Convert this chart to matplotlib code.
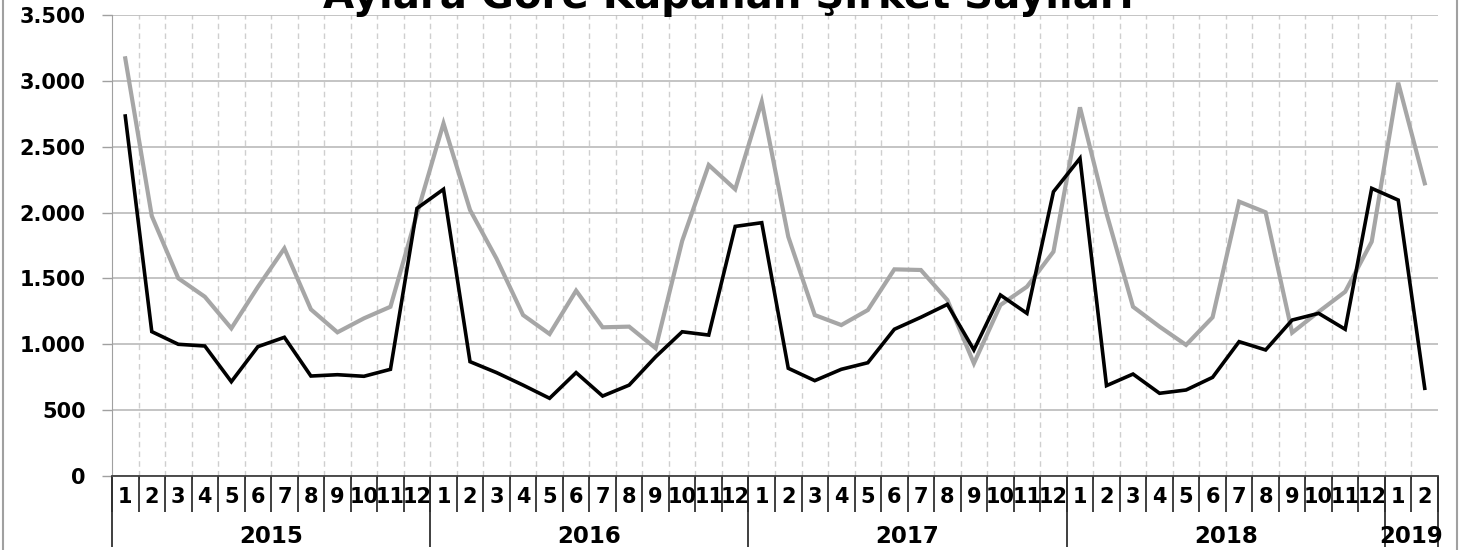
import numpy as np
import matplotlib
matplotlib.use("Agg")
import matplotlib.pyplot as plt
from matplotlib.ticker import FuncFormatter, FixedLocator
from matplotlib.patches import Rectangle

# Kapanan şirket sayıları, Ocak 2015 - Şubat 2019
years = ["2015", "2016", "2017", "2018", "2019"]
months_per_year = [12, 12, 12, 12, 2]

series_black = [2733, 1096, 1000, 987, 716, 982, 1053, 759, 769, 757, 810, 2032,
                2177, 868, 785, 690, 590, 785, 607, 690, 905, 1095, 1070, 1895,
                1923, 818, 724, 810, 860, 1114, 1205, 1303, 957, 1374, 1235, 2158,
                2412, 686, 774, 628, 653, 749, 1020, 957, 1184, 1235, 1114, 2184,
                2095, 666]

series_gray = [3171, 1974, 1501, 1361, 1121, 1435, 1728, 1265, 1091, 1197, 1285, 1990,
               2677, 2020, 1650, 1222, 1078, 1407, 1129, 1134, 970, 1785, 2361, 2177,
               2842, 1817, 1222, 1146, 1260, 1569, 1564, 1336, 855, 1298, 1437, 1703,
               2799, 1994, 1285, 1134, 995, 1205, 2083, 2002, 1088, 1247, 1399, 1779,
               2986, 2222]

month_labels = [str(m + 1) for n in months_per_year for m in range(n)]

W, H = 1465, 550
fig = plt.figure(figsize=(W / 100, H / 100), dpi=100)
ax = fig.add_axes([112 / W, 1 - 476 / H, (1438 - 112) / W, (476 - 15) / H])

x = np.arange(len(series_black)) + 0.5
ax.plot(x, series_gray, color="#a6a6a6", lw=3.0, solid_joinstyle="miter", zorder=3)
ax.plot(x, series_black, color="black", lw=2.6, solid_joinstyle="miter", zorder=4)

ax.set_xlim(0, len(x))
ax.set_ylim(0, 3500)

# y ekseni
ax.yaxis.set_major_locator(FixedLocator(np.arange(0, 3501, 500)))
ax.yaxis.set_major_formatter(FuncFormatter(lambda v, p: f"{int(v):,}".replace(",", ".")))
ax.tick_params(axis="y", length=7, width=1, color="#a0a0a0", pad=12,
               labelsize=15)
for lab in ax.get_yticklabels():
    lab.set_fontweight("bold")
ax.grid(axis="y", color="#b4b4b4", lw=1.1, zorder=1)

# dikey kesikli çizgiler (ay sınırları)
ax.xaxis.set_minor_locator(FixedLocator(np.arange(1, len(x))))
ax.grid(axis="x", which="minor", color="#cfcfcf", lw=1, ls=(0, (4, 3)), zorder=1)
ax.set_xticks([])

for s in ["top", "right"]:
    ax.spines[s].set_visible(False)
ax.spines["left"].set_color("#a0a0a0")
ax.spines["bottom"].set_color("#404040")
ax.spines["bottom"].set_linewidth(1.3)

# ay etiketleri ve çentikler
trans = ax.get_xaxis_transform()
bounds = np.arange(0, len(x) + 1)
ax.vlines(bounds, -0.078, 0, transform=trans, color="#303030", lw=1.3, clip_on=False)
for xi, lab in zip(x, month_labels):
    ax.text(xi, -0.046, lab, transform=trans, ha="center", va="center",
            fontsize=15, fontweight="bold")

# yıl etiketleri
edges = np.concatenate([[0], np.cumsum(months_per_year)])
ax.vlines(edges, -0.154, 0, transform=trans, color="#303030", lw=1.3, clip_on=False)
for i, yr in enumerate(years):
    ax.text((edges[i] + edges[i + 1]) / 2, -0.131, yr, transform=trans,
            ha="center", va="center", fontsize=16.5, fontweight="bold")

# başlık (üstten kesik, kaynakta olduğu gibi)
fig.text(728 / W, 1 - 8 / H, "Aylara Göre Kapanan Şirket Sayıları",
         ha="center", va="baseline", fontsize=29, fontweight="bold")

# dış çerçeve
fig.patches.append(Rectangle((3 / W, -0.05), (1457 - 3) / W, 1.1,
                             transform=fig.transFigure, fill=False,
                             edgecolor="#a0a0a0", lw=1.5))

fig.savefig("out.png", dpi=100)
